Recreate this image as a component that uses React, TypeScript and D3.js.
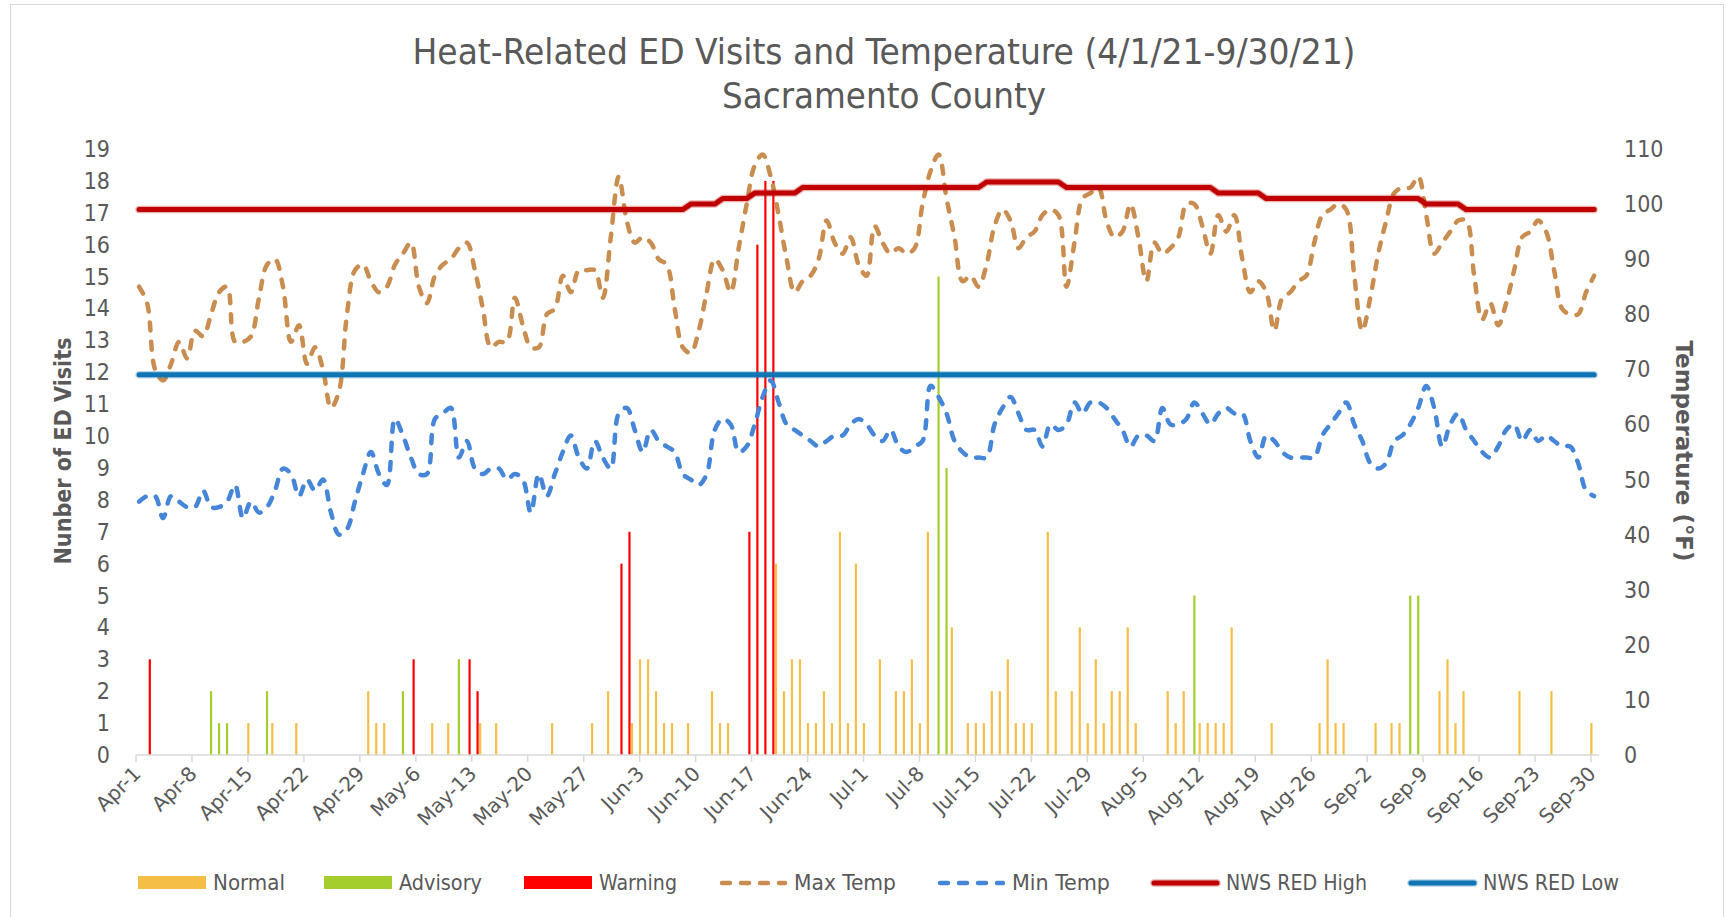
import React from 'react';
import * as d3 from 'd3';

// one value per day, 4/1/21 - 9/30/21, one row per month (Apr..Sep)
const maxTemp = [
  85, 82, 70, 68, 71, 75, 72, 77, 76, 80, 84, 85, 75, 75, 76, 83, 89, 90, 85, 75, 78, 71, 74, 70, 63, 66, 80, 88, 89, 86,
  84, 85, 89, 91, 93, 85, 82, 87, 89, 90, 92, 93, 88, 81, 74, 75, 75, 83, 78, 74, 74, 80, 81, 87, 84, 88, 88, 88, 83, 94, 105,
  97, 93, 94, 93, 90, 89, 81, 74, 73, 77, 84, 90, 88, 84, 92, 100, 107, 109, 105, 98, 90, 84, 86, 87, 90, 97, 93, 91, 94, 89,
  87, 96, 93, 91, 92, 91, 92, 100, 106, 109, 101, 94, 86, 87, 85, 89, 96, 99, 97, 92, 94, 95, 98, 99, 98, 85, 93, 101, 102, 103, 97,
  94, 95, 100, 94, 86, 93, 91, 92, 94, 100, 100, 96, 91, 98, 95, 98, 90, 84, 86, 84, 77, 83, 84, 86, 87, 93, 98, 99, 100, 99, 87,
  77, 83, 91, 97, 102, 103, 103, 105, 98, 91, 93, 95, 97, 97, 87, 79, 82, 78, 82, 88, 94, 95, 97, 95, 88, 81, 80, 80, 84, 87,
];

const minTemp = [
  46, 47, 47, 43, 47, 46, 45, 45, 48, 45, 45, 46, 49, 43, 46, 44, 45, 48, 52, 51, 47, 50, 48, 50, 44, 40, 41, 46, 51, 55,
  51, 49, 61, 58, 54, 51, 51, 61, 62, 63, 54, 57, 52, 51, 52, 52, 50, 51, 50, 44, 51, 47, 51, 55, 58, 54, 52, 57, 54, 52, 62,
  63, 59, 55, 59, 57, 56, 55, 51, 50, 49, 51, 59, 61, 60, 55, 56, 60, 65, 68, 64, 60, 59, 58, 57, 56, 57, 58, 58, 60, 61,
  60, 58, 57, 59, 56, 55, 56, 57, 67, 65, 62, 57, 55, 54, 54, 54, 60, 63, 65, 62, 59, 59, 56, 60, 59, 60, 64, 62, 64, 64, 63,
  61, 59, 56, 58, 58, 57, 63, 60, 60, 61, 64, 62, 60, 62, 63, 62, 62, 57, 54, 58, 57, 55, 54, 54, 54, 54, 58, 60, 62, 64, 60,
  57, 53, 52, 53, 57, 58, 60, 63, 67, 63, 56, 60, 62, 59, 57, 55, 54, 56, 59, 60, 57, 59, 57, 58, 57, 56, 56, 53, 48, 47,
];

const nwsHigh = [
  99, 99, 99, 99, 99, 99, 99, 99, 99, 99, 99, 99, 99, 99, 99, 99, 99, 99, 99, 99, 99, 99, 99, 99, 99, 99, 99, 99, 99, 99,
  99, 99, 99, 99, 99, 99, 99, 99, 99, 99, 99, 99, 99, 99, 99, 99, 99, 99, 99, 99, 99, 99, 99, 99, 99, 99, 99, 99, 99, 99, 99,
  99, 99, 99, 99, 99, 99, 99, 99, 100, 100, 100, 100, 101, 101, 101, 101, 102, 102, 102, 102, 102, 102, 103, 103, 103, 103, 103, 103, 103, 103,
  103, 103, 103, 103, 103, 103, 103, 103, 103, 103, 103, 103, 103, 103, 103, 104, 104, 104, 104, 104, 104, 104, 104, 104, 104, 103, 103, 103, 103, 103, 103,
  103, 103, 103, 103, 103, 103, 103, 103, 103, 103, 103, 103, 103, 102, 102, 102, 102, 102, 102, 101, 101, 101, 101, 101, 101, 101, 101, 101, 101, 101, 101,
  101, 101, 101, 101, 101, 101, 101, 101, 100, 100, 100, 100, 100, 99, 99, 99, 99, 99, 99, 99, 99, 99, 99, 99, 99, 99, 99, 99, 99, 99,
];

const nwsLow = 69;

const normalVisits = [
  0, 0, 0, 0, 0, 0, 0, 0, 0, 0, 0, 0, 0, 0, 1, 0, 0, 1, 0, 0, 1, 0, 0, 0, 0, 0, 0, 0, 0, 2,
  1, 1, 0, 0, 0, 0, 0, 1, 0, 1, 0, 0, 0, 1, 0, 1, 0, 0, 0, 0, 0, 0, 1, 0, 0, 0, 0, 1, 0, 2, 0,
  0, 1, 3, 3, 2, 1, 1, 0, 1, 0, 0, 2, 1, 1, 0, 0, 0, 0, 0, 6, 2, 3, 3, 1, 1, 2, 1, 7, 1, 6,
  1, 0, 3, 0, 2, 2, 3, 1, 7, 0, 0, 4, 0, 1, 1, 1, 2, 2, 3, 1, 1, 1, 0, 7, 2, 0, 2, 4, 1, 3, 1,
  2, 2, 4, 1, 0, 0, 0, 2, 1, 2, 0, 1, 1, 1, 1, 4, 0, 0, 0, 0, 1, 0, 0, 0, 0, 0, 1, 3, 1, 1, 0,
  0, 0, 1, 0, 1, 1, 0, 0, 0, 0, 2, 3, 1, 2, 0, 0, 0, 0, 0, 0, 2, 0, 0, 0, 2, 0, 0, 0, 0, 1,
];

const advisoryVisits = [
  0, 0, 0, 0, 0, 0, 0, 0, 0, 2, 1, 1, 0, 0, 0, 0, 2, 0, 0, 0, 0, 0, 0, 0, 0, 0, 0, 0, 0, 0,
  0, 0, 0, 2, 0, 0, 0, 0, 0, 0, 3, 0, 0, 0, 0, 0, 0, 0, 0, 0, 0, 0, 0, 0, 0, 0, 0, 0, 0, 0, 0,
  0, 0, 0, 0, 0, 0, 0, 0, 0, 0, 0, 0, 0, 0, 0, 0, 0, 0, 0, 0, 0, 0, 0, 0, 0, 0, 0, 0, 0, 0,
  0, 0, 0, 0, 0, 0, 0, 0, 0, 15, 9, 0, 0, 0, 0, 0, 0, 0, 0, 0, 0, 0, 0, 0, 0, 0, 0, 0, 0, 0, 0,
  0, 0, 0, 0, 0, 0, 0, 0, 0, 0, 5, 0, 0, 0, 0, 0, 0, 0, 0, 0, 0, 0, 0, 0, 0, 0, 0, 0, 0, 0, 0,
  0, 0, 0, 0, 0, 0, 5, 5, 0, 0, 0, 0, 0, 0, 0, 0, 0, 0, 0, 0, 0, 0, 0, 0, 0, 0, 0, 0, 0, 0,
];

const warningVisits = [
  0, 3, 0, 0, 0, 0, 0, 0, 0, 0, 0, 0, 0, 0, 0, 0, 0, 0, 0, 0, 0, 0, 0, 0, 0, 0, 0, 0, 0, 0,
  0, 0, 0, 0, 3, 0, 0, 0, 0, 0, 0, 3, 2, 0, 0, 0, 0, 0, 0, 0, 0, 0, 0, 0, 0, 0, 0, 0, 0, 0, 6,
  7, 0, 0, 0, 0, 0, 0, 0, 0, 0, 0, 0, 0, 0, 0, 7, 16, 18, 18, 0, 0, 0, 0, 0, 0, 0, 0, 0, 0, 0,
  0, 0, 0, 0, 0, 0, 0, 0, 0, 0, 0, 0, 0, 0, 0, 0, 0, 0, 0, 0, 0, 0, 0, 0, 0, 0, 0, 0, 0, 0, 0,
  0, 0, 0, 0, 0, 0, 0, 0, 0, 0, 0, 0, 0, 0, 0, 0, 0, 0, 0, 0, 0, 0, 0, 0, 0, 0, 0, 0, 0, 0, 0,
  0, 0, 0, 0, 0, 0, 0, 0, 0, 0, 0, 0, 0, 0, 0, 0, 0, 0, 0, 0, 0, 0, 0, 0, 0, 0, 0, 0, 0, 0,
];

const days = d3.timeDay.range(new Date(2021, 3, 1), new Date(2021, 9, 1));
const leftTicks = d3.range(0, 20);
const rightTicks = [0, 10, 20, 30, 40, 50, 60, 70, 80, 90, 100, 110];

const FONT = "'DejaVu Sans', sans-serif";
const GREY = '#595959';
const C = {
  normal: '#F5BE47',
  advisory: '#A3CE2B',
  warning: '#FF0000',
  max: '#C98D50',
  min: '#4686D8',
  high: '#C00000',
  low: '#0E74B4',
};

const barSeries = [
  { key: 'normal', values: normalVisits, color: C.normal },
  { key: 'advisory', values: advisoryVisits, color: C.advisory },
  { key: 'warning', values: warningVisits, color: C.warning },
];

const legend = [
  { label: 'Normal', kind: 'rect', color: C.normal, x: 138, tw: 72 },
  { label: 'Advisory', kind: 'rect', color: C.advisory, x: 324, tw: 83 },
  { label: 'Warning', kind: 'rect', color: C.warning, x: 524, tw: 78 },
  { label: 'Max Temp', kind: 'dash', color: C.max, x: 719, tw: 102 },
  { label: 'Min Temp', kind: 'dash', color: C.min, x: 937, tw: 98 },
  { label: 'NWS RED High', kind: 'solid', color: C.high, x: 1151, tw: 141 },
  { label: 'NWS RED Low', kind: 'solid', color: C.low, x: 1408, tw: 136 },
];

export default function App() {
  const width = 1734;
  const height = 917;
  const top = 149;
  const bottom = 755;

  const x = d3.scaleBand<number>().domain(d3.range(days.length)).range([136, 1599]);
  const mid = (i: number) => (x(i) as number) + 3.1;
  const sub = d3.scaleBand<string>().domain(barSeries.map(s => s.key)).range([-0.7, 6.9]).paddingInner(0.185);
  const yL = d3.scaleLinear().domain([0, 19]).range([bottom, top]);
  const yR = d3.scaleLinear().domain([0, 110]).range([bottom, top]);

  const smooth = d3.line<number>().x((_, i) => mid(i)).y(d => yR(d)).curve(d3.curveCatmullRom.alpha(0.5));
  const straight = d3.line<number>().x((_, i) => mid(i)).y(d => yR(d));
  const fmt = d3.timeFormat('%b-%-d');
  const weekly = days.map((d, i) => ({ d, i })).filter(t => t.i % 7 === 0);

  const dash = { strokeWidth: 4.5, strokeDasharray: '8 11', strokeLinecap: 'round' as const };
  const narrow = { fontStretch: 'condensed' };

  return (
    <svg width={width} height={height} style={{ position: 'absolute', left: 0, top: 0, background: '#fff' }}
      fontFamily={FONT}>
      <rect x={10.5} y={4.5} width={1713} height={930} fill="none" stroke="#d9d9d9" />

      <text x={884} y={64} textAnchor="middle" fontSize={36} fill={GREY} style={narrow} textLength={943}
        lengthAdjust="spacingAndGlyphs">
        Heat-Related ED Visits and Temperature (4/1/21-9/30/21)
      </text>
      <text x={884} y={108} textAnchor="middle" fontSize={36} fill={GREY} style={narrow} textLength={324}
        lengthAdjust="spacingAndGlyphs">
        Sacramento County
      </text>

      {/* bars */}
      {barSeries.map(s => (
        <g key={s.key} fill={s.color}>
          {s.values.map((v, i) => v > 0 ? (
            <rect key={i} x={(x(i) as number) + (sub(s.key) as number)} y={yL(v)}
              width={sub.bandwidth()} height={yL(0) - yL(v)} />
          ) : null)}
        </g>
      ))}

      {/* x axis */}
      <line x1={136} x2={1599} y1={bottom} y2={bottom} stroke="#d9d9d9" strokeWidth={1.5} />
      {weekly.map(t => (
        <g key={t.i}>
          <line x1={x(t.i)} x2={x(t.i)} y1={bottom} y2={bottom + 7} stroke="#d9d9d9" strokeWidth={1.5} />
          <text transform={`translate(${(x(t.i) as number) + 1},${bottom + 15}) rotate(-45)`} textAnchor="end"
            dominantBaseline="central" fontSize={20} fill={GREY}>{fmt(t.d)}</text>
        </g>
      ))}

      {/* y axes */}
      {leftTicks.map(v => (
        <text key={v} x={110} y={yL(v)} textAnchor="end" dominantBaseline="central" fontSize={23} style={narrow}
          fill={GREY}>{v}</text>
      ))}
      {rightTicks.map(v => (
        <text key={v} x={1624} y={yR(v)} textAnchor="start" dominantBaseline="central" fontSize={23} style={narrow}
          fill={GREY}>{v}</text>
      ))}
      <text transform={`translate(63,451) rotate(-90)`} textAnchor="middle" dominantBaseline="central" fontSize={23}
        fontWeight="bold" fill={GREY} textLength={227} lengthAdjust="spacingAndGlyphs">Nunber of ED Visits</text>
      <text transform={`translate(1684,451) rotate(90)`} textAnchor="middle" dominantBaseline="central" fontSize={23}
        fontWeight="bold" fill={GREY} textLength={221} lengthAdjust="spacingAndGlyphs">Temperature (°F)</text>

      {/* lines */}
      <path d={smooth(maxTemp) ?? ''} fill="none" stroke={C.max} {...dash} />
      <path d={smooth(minTemp) ?? ''} fill="none" stroke={C.min} {...dash} />
      <path d={straight(nwsHigh) ?? ''} fill="none" stroke={C.high} strokeOpacity={0.3} strokeWidth={7.5}
        strokeLinecap="round" strokeLinejoin="round" />
      <path d={straight(nwsHigh) ?? ''} fill="none" stroke={C.high} strokeWidth={5} strokeLinecap="round"
        strokeLinejoin="round" />
      <line x1={mid(0)} x2={mid(days.length - 1)} y1={yR(nwsLow)} y2={yR(nwsLow)} stroke={C.low} strokeOpacity={0.3}
        strokeWidth={7.5} strokeLinecap="round" />
      <line x1={mid(0)} x2={mid(days.length - 1)} y1={yR(nwsLow)} y2={yR(nwsLow)} stroke={C.low} strokeWidth={5}
        strokeLinecap="round" />

      {/* legend */}
      {legend.map(l => (
        <g key={l.label}>
          {l.kind === 'rect' && <rect x={l.x} y={876} width={68} height={13} fill={l.color} />}
          {l.kind === 'dash' && <line x1={l.x + 3} x2={l.x + 66} y1={883} y2={883} stroke={l.color} {...dash} />}
          {l.kind === 'solid' && <>
            <line x1={l.x + 3} x2={l.x + 66} y1={883} y2={883} stroke={l.color} strokeOpacity={0.3} strokeWidth={7.5}
              strokeLinecap="round" />
            <line x1={l.x + 3} x2={l.x + 66} y1={883} y2={883} stroke={l.color} strokeWidth={5} strokeLinecap="round" />
          </>}
          <text x={l.x + 75} y={883} dominantBaseline="central" fontSize={21} fill={GREY} style={narrow}
            textLength={l.tw} lengthAdjust="spacingAndGlyphs">{l.label}</text>
        </g>
      ))}
    </svg>
  );
}
